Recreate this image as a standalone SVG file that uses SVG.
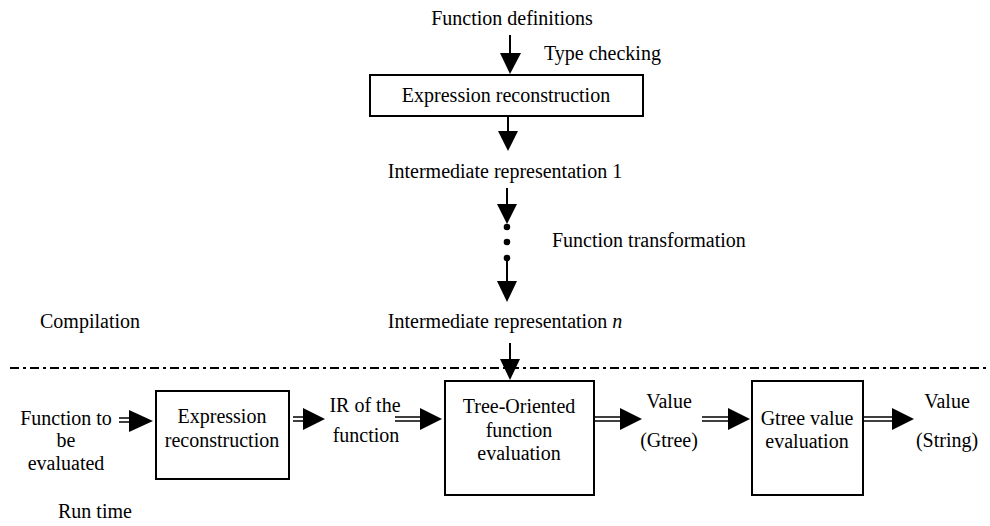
<svg xmlns="http://www.w3.org/2000/svg" width="990" height="526" viewBox="0 0 990 526">
<defs>
<style>
text{font-family:"Liberation Serif","Times New Roman",serif;font-size:20px;fill:#000}
.c{text-anchor:middle}
.box{fill:#fff;stroke:#000;stroke-width:2}
.ln{stroke:#000;stroke-width:2;fill:none}
.dl{stroke:#000;stroke-width:1.6;fill:none}
.hd{fill:#000}
</style>
</defs>
<rect width="990" height="526" fill="#fff"/>
<g id="connectors">
<line class="ln" x1="510" y1="35" x2="510" y2="55"/>
<polygon class="hd" points="500,53 521,53 510,74"/>
<line class="ln" x1="508" y1="116" x2="508" y2="134"/>
<polygon class="hd" points="498,131 518,131 508,151"/>
<line class="ln" x1="507" y1="188" x2="507" y2="207"/>
<polygon class="hd" points="497,204 517,204 507,224"/>
<circle cx="507" cy="227" r="3.3" fill="#000"/>
<circle cx="507" cy="242" r="3.3" fill="#000"/>
<circle cx="507" cy="258" r="3.3" fill="#000"/>
<line class="ln" x1="507" y1="258" x2="507" y2="284"/>
<polygon class="hd" points="497,281 517,281 507,302"/>
<line class="ln" x1="510" y1="343" x2="510" y2="362"/>
<polygon class="hd" points="500,359 520,359 510,380"/>
<line x1="10" y1="368" x2="990" y2="368" stroke="#000" stroke-width="2" stroke-dasharray="9 4 3 4"/>
<path class="dl" d="M119,418H131M119,422H131"/>
<polygon class="hd" points="129,410 153,421 129,432"/>
<path class="dl" d="M293,417H305M293,421H305"/>
<polygon class="hd" points="303,408 325,419 303,430"/>
<path class="dl" d="M395,417H422M395,421H422"/>
<polygon class="hd" points="420,408 442,419 420,430"/>
<path class="dl" d="M594,417H622M594,421H622"/>
<polygon class="hd" points="620,408 642,419 620,430"/>
<path class="dl" d="M702,417H730M702,421H730"/>
<polygon class="hd" points="728,408 750,419 728,430"/>
<path class="dl" d="M863,417H894M863,421H894"/>
<polygon class="hd" points="892,408 914,419 892,430"/>
</g>
<g id="label-func-def"><text class="c" x="512" y="25">Function definitions</text></g>
<g id="label-type-checking"><text x="544" y="60">Type checking</text></g>
<g id="box-expr-top"><rect class="box" x="370" y="75" width="273" height="41"/><text class="c" x="506" y="102">Expression reconstruction</text></g>
<g id="label-ir1"><text class="c" x="505" y="178">Intermediate representation 1</text></g>
<g id="label-func-trans"><text x="552" y="247">Function transformation</text></g>
<g id="label-compilation"><text x="40" y="328">Compilation</text></g>
<g id="label-irn"><text class="c" x="505" y="328">Intermediate representation <tspan font-style="italic">n</tspan></text></g>
<g id="label-func-eval"><text class="c" x="66" y="425">Function to</text><text class="c" x="66" y="447">be</text><text class="c" x="66" y="470">evaluated</text></g>
<g id="box-expr-bottom"><rect class="box" x="156" y="391" width="133" height="88"/><text class="c" x="222" y="423">Expression</text><text class="c" x="222" y="447">reconstruction</text></g>
<g id="label-ir-func"><text class="c" x="365" y="412">IR of the</text><text class="c" x="366" y="442">function</text></g>
<g id="box-tree"><rect class="box" x="445" y="381" width="149" height="114"/><text class="c" x="519" y="413">Tree-Oriented</text><text class="c" x="519" y="437">function</text><text class="c" x="519" y="460">evaluation</text></g>
<g id="label-value-gtree"><text class="c" x="669" y="408">Value</text><text class="c" x="669" y="447">(Gtree)</text></g>
<g id="box-gtree"><rect class="box" x="752" y="381" width="111" height="114"/><text class="c" x="807" y="425">Gtree value</text><text class="c" x="807" y="448">evaluation</text></g>
<g id="label-value-string"><text class="c" x="947" y="408">Value</text><text class="c" x="947" y="447">(String)</text></g>
<g id="label-runtime"><text x="58" y="518">Run time</text></g>
</svg>
